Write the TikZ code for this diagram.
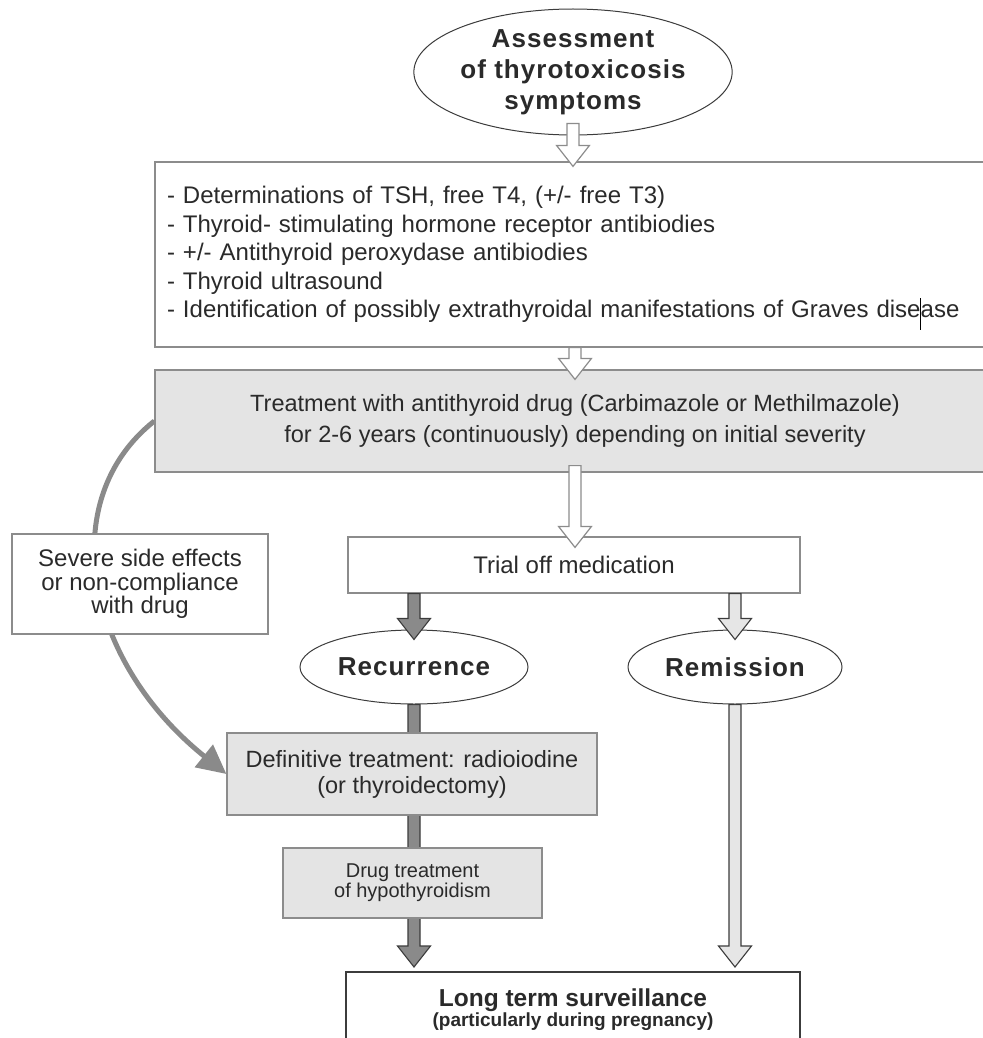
\documentclass[tikz,border=0pt]{standalone}
\usepackage{fontspec}
\setmainfont{Liberation Sans}
\usetikzlibrary{shapes.geometric,arrows.meta,calc,backgrounds}

\definecolor{boxline}{HTML}{8C8C8C}
\definecolor{boxfill}{HTML}{E4E4E4}
\definecolor{darkarrow}{HTML}{8A8A8A}
\definecolor{lightarrow}{HTML}{E6E6E6}
\definecolor{inkline}{HTML}{3C3C3C}
\definecolor{txt}{HTML}{2A2A2A}

% block arrow: style, start, tip (always vertical)
\newcommand*{\blockarrow}[3]{%
	\draw[#1] let \p1=(#2), \p2=(#3) in
		(\x1-6pt,\y1) -- (\x1-6pt,\y2+21pt) -- (\x1-16.5pt,\y2+21pt) -- (\x1,\y2)
		-- (\x1+16.5pt,\y2+21pt) -- (\x1+6pt,\y2+21pt) -- (\x1+6pt,\y1) -- cycle;}

\begin{document}
\begin{tikzpicture}
[
	x=1pt,y=-1pt,
	every node/.style={text=txt},
	plainbox/.style={rectangle,draw=boxline,line width=1.2pt,fill=white,inner sep=0pt,font=\fontsize{24}{28.5}\selectfont},
	shadebox/.style={plainbox,fill=boxfill},
	oval/.style={ellipse,draw=inkline,line width=1pt,fill=white,inner sep=0pt,
		font=\bfseries\fontsize{26}{31}\selectfont\addfontfeature{LetterSpace=4}},
	hollow/.style={draw=boxline,line width=1.2pt,fill=white},
	darkarr/.style={draw=inkline,line width=1.1pt,fill=darkarrow},
	lightarr/.style={draw=inkline,line width=1.1pt,fill=lightarrow},
	sidearr/.style={draw=darkarrow,line width=5pt,-{Triangle[length=29pt,width=28pt]}}
]

	\useasboundingbox (0,0) rectangle (982,1038);

	% nodes
	\node[oval,minimum width=312pt,minimum height=126pt,align=center] (title) at (573,72)
		{Assessment\\of thyrotoxicosis\\symptoms};

	\node[plainbox,minimum width=840pt,minimum height=185pt,text width=816pt,align=left] (tests) at (575,254.5)
		{- Determinations of TSH, free T4, (+/- free T3)\\
		- Thyroid- stimulating hormone receptor antibiodies\\
		- +/- Antithyroid peroxydase antibiodies\\
		- Thyroid ultrasound\\
		- Identification of possibly extrathyroidal manifestations of Graves dise\makebox[0pt]{\smash{\color{black}\rule[-12pt]{1.2pt}{32pt}}}ase};

	\node[shadebox,minimum width=840pt,minimum height=102pt,align=center,font=\fontsize{23.5}{31}\selectfont] (atd) at (575,421)
		{Treatment with antithyroid drug (Carbimazole or Methilmazole)\\for 2-6 years (continuously) depending on initial severity};

	\node[plainbox,minimum width=452pt,minimum height=56pt] (trial) at (574,565) {Trial off medication};

	\node[plainbox,minimum width=256pt,minimum height=100pt,align=center,font=\fontsize{24}{23.5}\selectfont] (side) at (140,584)
		{Severe side effects\\or non-compliance\\with drug};

	\node[oval,minimum width=228pt,minimum height=74pt] (recur) at (414,667) {Recurrence};
	\node[oval,minimum width=214pt,minimum height=74pt] (remis) at (735,667) {Remission};

	\node[shadebox,minimum width=370pt,minimum height=82pt,align=center,font=\fontsize{23.5}{26}\selectfont] (radio) at (412,774)
		{Definitive treatment: radioiodine\\(or thyroidectomy)};

	\node[shadebox,minimum width=259pt,minimum height=70pt,align=center,font=\fontsize{20}{20}\selectfont] (hypo) at (412.5,883)
		{Drug treatment\\of hypothyroidism};

	\node[rectangle,draw=inkline,line width=1.6pt,fill=white,minimum width=454pt,inner ysep=17pt,anchor=north,
		align=center,text depth=80pt,font=\bfseries\fontsize{24.5}{20}\selectfont] (watch) at (573,971)
		{Long term surveillance\\{\fontsize{19}{20}\selectfont(particularly during pregnancy)}};

	% arrows behind the boxes
	\begin{scope}[on background layer]
		\draw[sidearr] (atd.west) .. controls +(-100,79) and +(-142,-114) .. (radio.west);
		\blockarrow{darkarr}{recur.south}{$(recur.south |- watch.north)+(0,-4)$}
		\blockarrow{lightarr}{remis.south}{$(remis.south |- watch.north)+(0,-4)$}
	\end{scope}

	% arrows on top
	\blockarrow{hollow}{$(title.south)+(0,-12)$}{$(tests.north)+(0,5)$}
	\blockarrow{hollow}{tests.south}{$(atd.north)+(0,10)$}
	\blockarrow{hollow}{$(atd.south)+(0,-7)$}{$(trial.north)+(0,11)$}
	\blockarrow{darkarr}{trial.south -| recur.north}{$(recur.north)+(0,10)$}
	\blockarrow{lightarr}{trial.south -| remis.north}{$(remis.north)+(0,10)$}

\end{tikzpicture}
\end{document}
